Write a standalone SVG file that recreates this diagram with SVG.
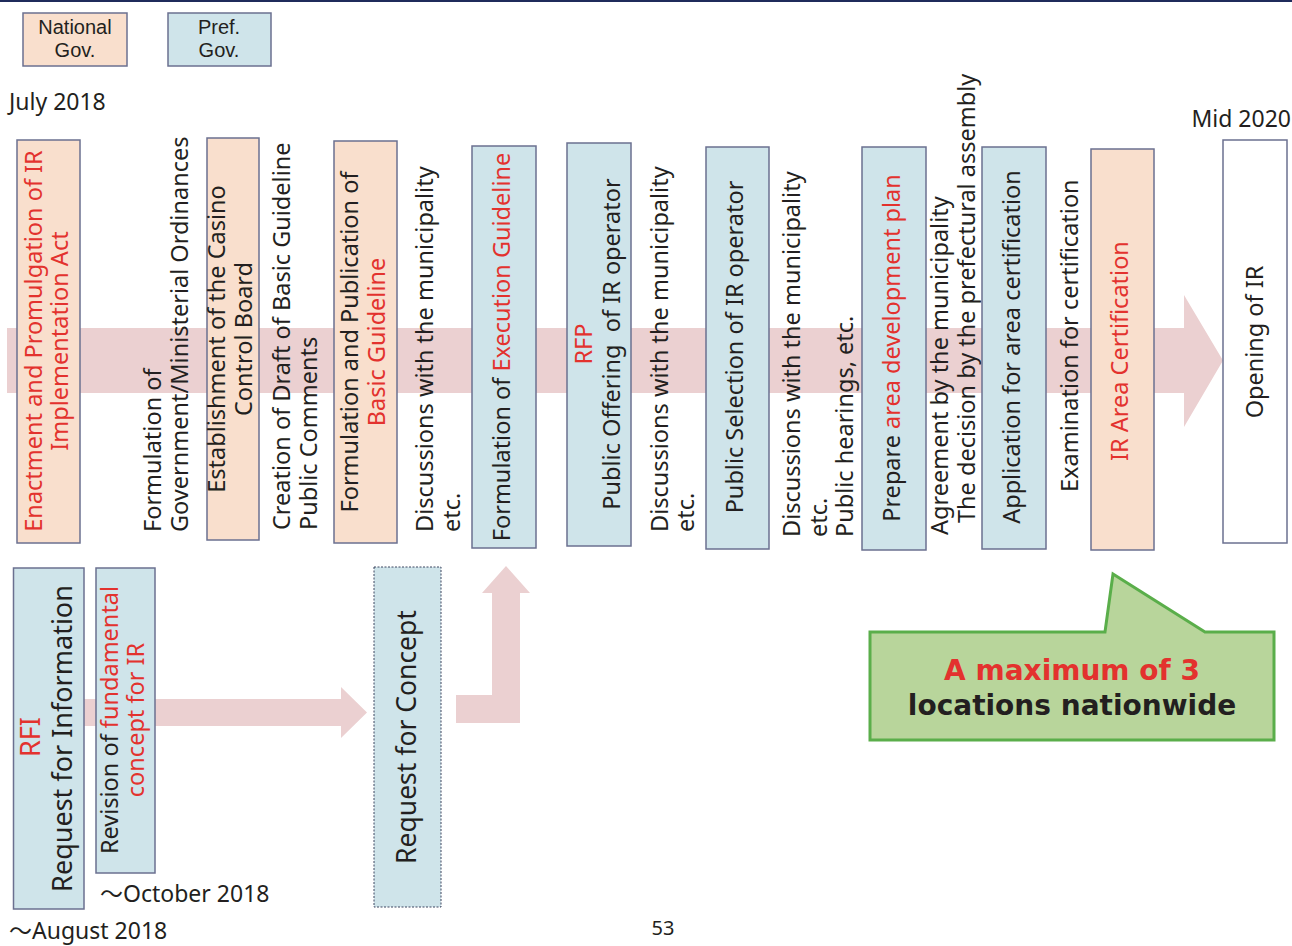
<svg xmlns="http://www.w3.org/2000/svg" width="1292" height="946" viewBox="0 0 1292 946">
<style>
  .nat { fill: #f9dfcd; stroke: #6b7090; stroke-width: 1.5; }
  .pref { fill: #cfe4ea; stroke: #6b7090; stroke-width: 1.5; }
  .open { fill: #ffffff; stroke: #6b7090; stroke-width: 1.5; }
  .dash { fill: #cfe4ea; stroke: #3c4660; stroke-width: 1; stroke-dasharray: 2 1.5; }
  .band { fill: #ebd0d1; }
  text { font-family: "Noto Sans", "Liberation Sans", "Noto Sans CJK JP", sans-serif; fill: #231f20; }
  .v { font-size: 23.5px; }
  .big { font-size: 27px; }
  .m { text-anchor: middle; }
  .r { fill: #e3322e; }
  .lg { font-family: "Liberation Sans", "Noto Sans", sans-serif; font-size: 20px; text-anchor: middle; }
  .d { font-size: 23px; }
  .call { font-family: "DejaVu Sans", "Liberation Sans", sans-serif; font-weight: bold; font-size: 28px; text-anchor: middle; }
</style>
<rect x="0" y="0" width="1292" height="2" fill="#1f2b5b"/>

<g id="legend-national">
  <rect class="nat" x="23" y="13" width="104" height="53"/>
  <text class="lg" x="75" y="34">National</text>
  <text class="lg" x="75" y="57">Gov.</text>
</g>
<g id="legend-pref">
  <rect class="pref" x="168" y="13" width="103" height="53"/>
  <text class="lg" x="219" y="34">Pref.</text>
  <text class="lg" x="219" y="57">Gov.</text>
</g>

<text class="d" x="9" y="110">July 2018</text>
<text class="d" x="1291" y="127" text-anchor="end">Mid 2020</text>

<g id="connectors">
  <polygon class="band" points="7,328 1184,328 1184,295 1223,360.5 1184,427 1184,393 7,393"/>
  <polygon class="band" points="60,699 341,699 341,687 367,712.5 341,738 341,726 60,726"/>
  <polygon class="band" points="456,695 492,695 492,593 482,593 506,566 530,593 520,593 520,723 456,723"/>
</g>

<g id="n-enactment">
  <rect class="nat" x="17" y="140" width="63" height="403"/>
  <text class="v m r" transform="translate(42,341) rotate(-90)">Enactment and Promulgation of IR</text>
  <text class="v m r" transform="translate(68,341) rotate(-90)">Implementation Act</text>
</g>

<g id="n-ordinances">
  <text class="v" transform="translate(161,532) rotate(-90)">Formulation of</text>
  <text class="v" transform="translate(188,532) rotate(-90)">Government/Ministerial Ordinances</text>
</g>

<g id="n-casino-board">
  <rect class="nat" x="207" y="138" width="52" height="402"/>
  <text class="v m" transform="translate(225,339) rotate(-90)">Establishment of the Casino</text>
  <text class="v m" transform="translate(252,339) rotate(-90)">Control Board</text>
</g>

<g id="n-draft">
  <text class="v" transform="translate(290,530) rotate(-90)">Creation of Draft of Basic Guideline</text>
  <text class="v" transform="translate(317,530) rotate(-90)">Public Comments</text>
</g>

<g id="n-basic-guideline">
  <rect class="nat" x="334" y="141" width="63" height="402"/>
  <text class="v m" transform="translate(358,342) rotate(-90)">Formulation and Publication of</text>
  <text class="v m r" transform="translate(385,342) rotate(-90)">Basic Guideline</text>
</g>

<g id="n-discussions-1">
  <text class="v" transform="translate(433,532) rotate(-90)">Discussions with the municipality</text>
  <text class="v" transform="translate(460,532) rotate(-90)">etc.</text>
</g>

<g id="n-execution-guideline">
  <rect class="pref" x="472" y="146" width="64" height="402"/>
  <text class="v m" transform="translate(510,347) rotate(-90)">Formulation of <tspan class="r">Execution Guideline</tspan></text>
</g>

<g id="n-rfp">
  <rect class="pref" x="567" y="143" width="64" height="403"/>
  <text class="v m r" transform="translate(592,344) rotate(-90)">RFP</text>
  <text class="v m" xml:space="preserve" transform="translate(620,344) rotate(-90)">Public Offering  of IR operator</text>
</g>

<g id="n-discussions-2">
  <text class="v" transform="translate(668,532) rotate(-90)">Discussions with the municipality</text>
  <text class="v" transform="translate(694,532) rotate(-90)">etc.</text>
</g>

<g id="n-selection">
  <rect class="pref" x="706" y="147" width="63" height="402"/>
  <text class="v m" transform="translate(743,347) rotate(-90)">Public Selection of IR operator</text>
</g>

<g id="n-discussions-3">
  <text class="v" transform="translate(800,537) rotate(-90)">Discussions with the municipality</text>
  <text class="v" transform="translate(827,537) rotate(-90)">etc.</text>
  <text class="v" transform="translate(853,537) rotate(-90)">Public hearings, etc.</text>
</g>

<g id="n-area-plan">
  <rect class="pref" x="862" y="147" width="64" height="403"/>
  <text class="v m" transform="translate(900,348) rotate(-90)">Prepare <tspan class="r">area development plan</tspan></text>
</g>

<g id="n-agreement">
  <text class="v" transform="translate(948,535) rotate(-90)">Agreement by the municipality</text>
  <text class="v" transform="translate(975,523) rotate(-90)">The decision by the prefectural assembly</text>
</g>

<g id="n-application">
  <rect class="pref" x="982" y="147" width="64" height="402"/>
  <text class="v m" transform="translate(1020,347) rotate(-90)">Application for area certification</text>
</g>

<g id="n-examination">
  <text class="v" transform="translate(1078,492) rotate(-90)">Examination for certification</text>
</g>

<g id="n-certification">
  <rect class="nat" x="1091" y="149" width="63" height="401"/>
  <text class="v m r" transform="translate(1128,351) rotate(-90)">IR Area Certification</text>
</g>

<g id="n-opening">
  <rect class="open" x="1223" y="140" width="64" height="403"/>
  <text class="v m" transform="translate(1263,342) rotate(-90)">Opening of IR</text>
</g>

<g id="n-rfi">
  <rect class="pref" x="13.5" y="568" width="70.5" height="341"/>
  <text class="big m r" transform="translate(39.5,737) rotate(-90)">RFI</text>
  <text class="big m" transform="translate(72,738.5) rotate(-90)">Request for Information</text>
</g>

<g id="n-revision">
  <rect class="pref" x="96" y="568" width="59" height="305"/>
  <text class="v m" transform="translate(118,720) rotate(-90)">Revision of <tspan class="r">fundamental</tspan></text>
  <text class="v m r" transform="translate(144,720) rotate(-90)">concept for IR</text>
</g>

<g id="n-concept">
  <rect class="dash" x="374" y="567" width="67" height="340"/>
  <text class="m" font-size="26.5" transform="translate(416,737) rotate(-90)">Request for Concept</text>
</g>

<text class="d" x="100" y="902">〜October 2018</text>
<text class="d" x="9" y="939">〜August 2018</text>
<text font-size="20" x="663" y="935" text-anchor="middle">53</text>

<g id="n-callout">
  <polygon points="870,632 1105,632 1113,574 1205,632 1274,632 1274,740 870,740" fill="#b8d59b" stroke="#5aae4a" stroke-width="3" stroke-linejoin="miter"/>
  <text class="call r" x="1072" y="680">A maximum of 3</text>
  <text class="call" x="1072" y="715">locations nationwide</text>
</g>
</svg>
